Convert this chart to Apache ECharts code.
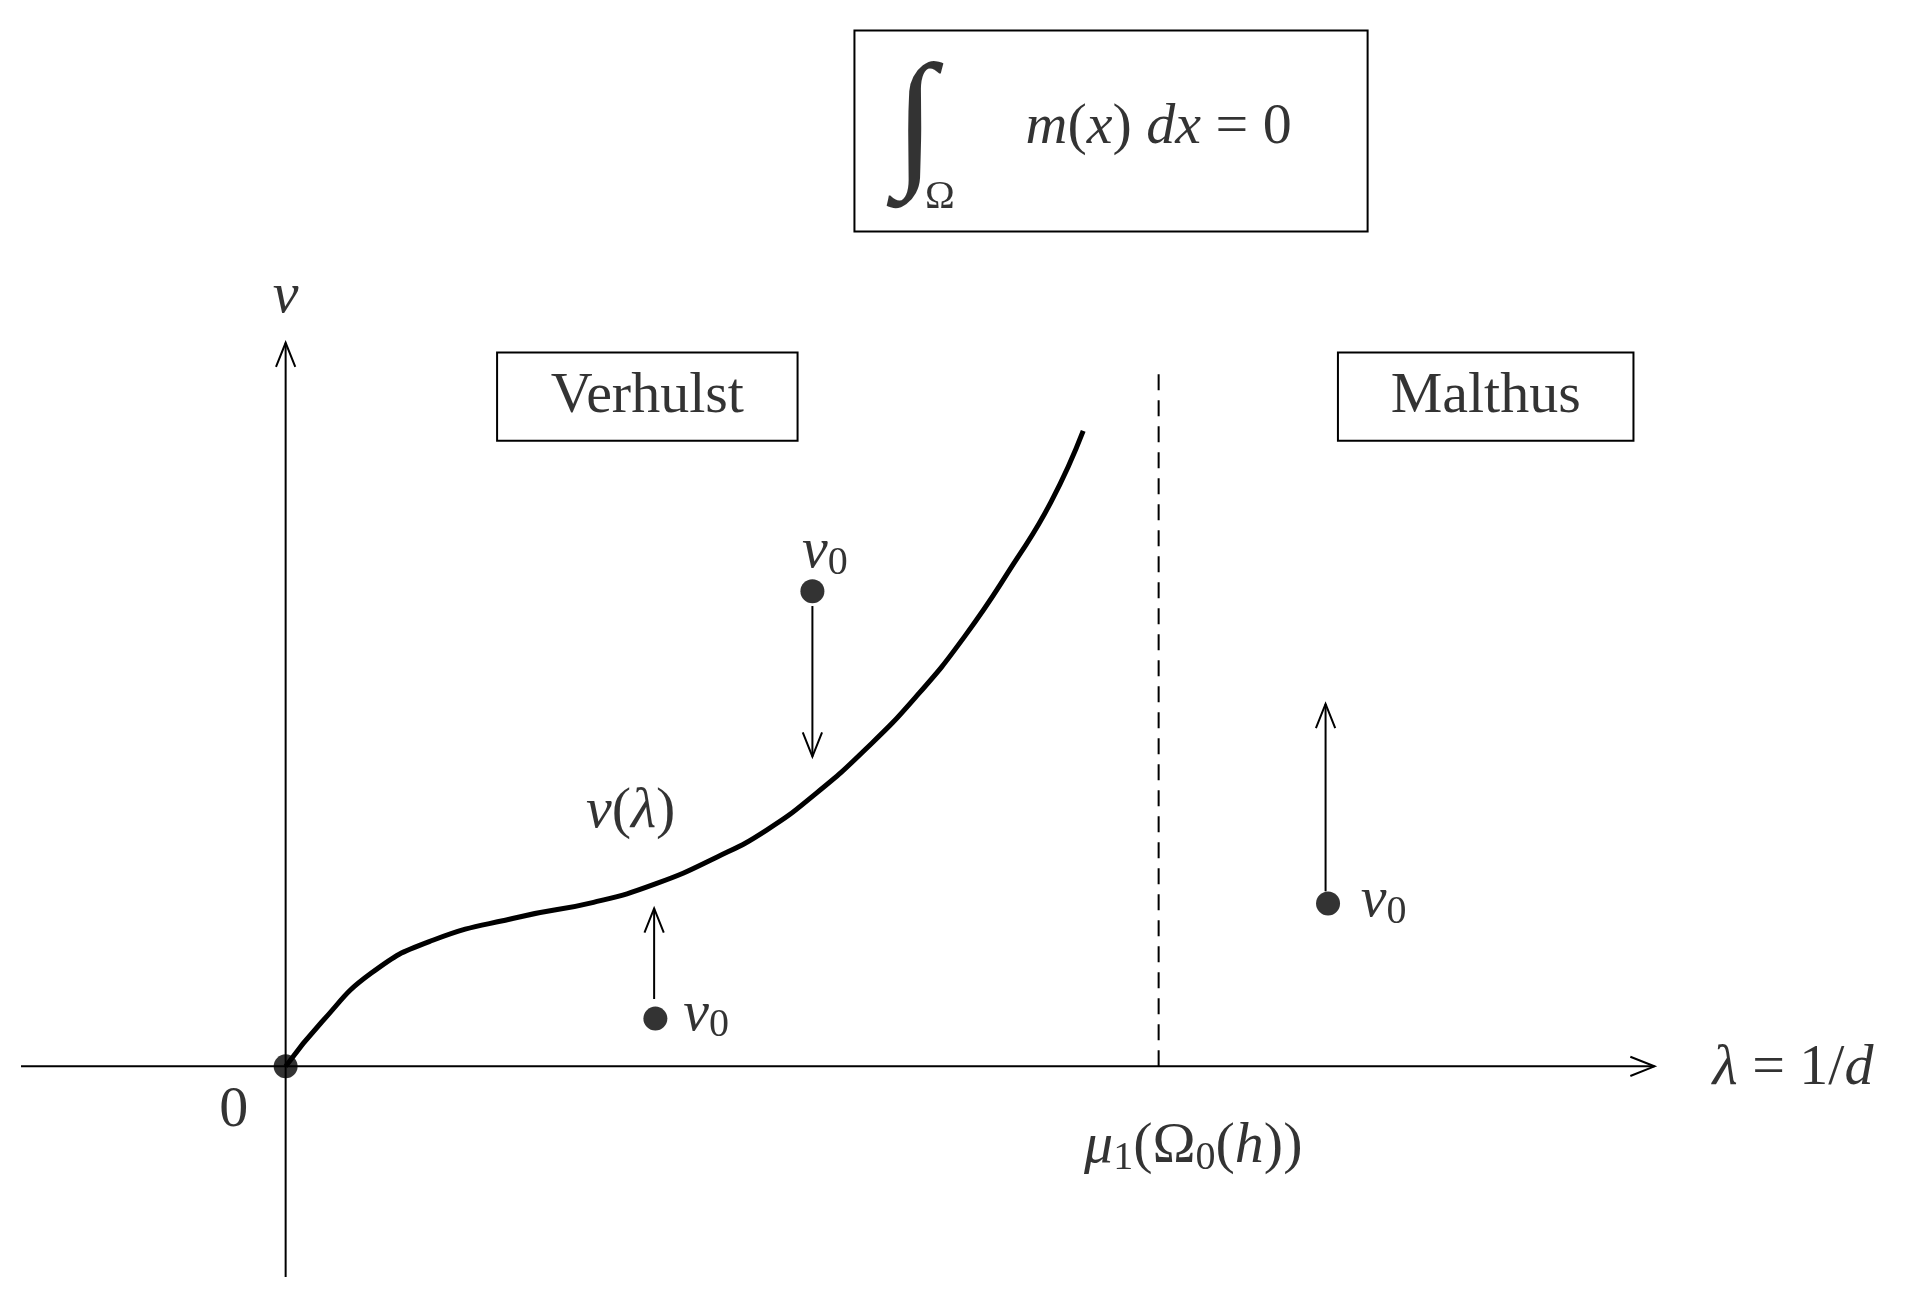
<!DOCTYPE html>
<html><head><meta charset="utf-8">
<script src="https://cdn.jsdelivr.net/npm/echarts@6/dist/echarts.min.js"></script>
<style>html,body{margin:0;background:#fff}#c{width:1929px;height:1310px}</style>
</head><body><div id="c"></div>
<script>
// curve v(lambda)
const curveLambda = [0,0.29,0.69,1.19,1.89,2.49,2.99,3.49,3.89,4.29,4.69,5.09,5.49,5.89,6.19,6.45];
const curveV      = [0,0.36,0.76,1.03,1.22,1.34,1.49,1.71,1.93,2.23,2.59,3.01,3.51,4.11,4.61,5.19];
// initial data dots
const dots = [[0,0],[2.99,0.39],[4.26,3.88],[8.43,1.33]];
// arrows [x1,y1,x2,y2] (head at end)
const arrows = [[-2.14,0,11.07,0],[0,-1.72,0,5.91],[2.98,0.55,2.98,1.29],[4.26,3.76,4.26,2.53],[8.41,1.43,8.41,2.96]];
const mu1 = 7.06, dashTop = 5.66;
// boxes [x1,y1,x2,y2]
const boxes = [[1.71,5.83,4.14,5.11],[8.51,5.83,10.90,5.11],[4.60,8.46,8.75,6.82]];

const serif = '"Liberation Serif","DejaVu Serif",serif';
const chart = echarts.init(document.getElementById('c'));
function lab(x,y,text,rich,size){return {value:[x,y],label:{show:true,position:'inside',formatter:text,rich:rich||{},fontSize:size||56,fontFamily:serif,color:'#000'}};}
const R = {
 i:{fontStyle:'italic',fontSize:58,fontFamily:serif},
 n:{fontSize:58,fontFamily:serif},
 s:{fontSize:40,fontFamily:serif,padding:[22,0,0,0]},
 si:{fontSize:40,fontStyle:'italic',fontFamily:serif,padding:[22,0,0,0]}
};
const labels = [
 lab(0,6.29,'{i|v}',R),
 lab(-0.42,-0.36,'{n|0}',R),
 lab(12.19,-0.02,'{i|λ}{n| = 1/}{i|d}',R),
 lab(7.34,-0.66,'{i|μ}{s|1}{n|(Ω}{s|0}{n|(}{i|h}{n|))}',R),
 lab(2.79,2.08,'{i|v}{n|(}{i|λ}{n|)}',R),
 lab(4.36,4.20,'{i|v}{s|0}',R),
 lab(3.40,0.42,'{i|v}{s|0}',R),
 lab(8.88,1.35,'{i|v}{s|0}',R),
 lab(2.925,5.47,'{n|Verhulst}',R),
 lab(9.705,5.47,'{n|Malthus}',R),
 lab(5.09,7.66,'{b|∫}',{b:{fontSize:150,fontStyle:'italic',fontFamily:serif}}),
 lab(5.29,7.10,'{n|Ω}',{n:{fontSize:40,fontFamily:serif}}),
 lab(7.06,7.67,'{i|m}{n|(}{i|x}{n|) }{i|dx}{n| = 0}',R)
];

chart.setOption({
 animation:false,
 grid:{left:0,right:0,top:0,bottom:0},
 xAxis:{type:'value',min:-2.31,max:13.29,show:false},
 yAxis:{type:'value',min:-1.99,max:8.71,show:false},
 series:[
  {type:'custom',data:arrows,renderItem:(p,api)=>{
    const a=api.coord([api.value(0),api.value(1)]),b=api.coord([api.value(2),api.value(3)]);
    const ang=Math.atan2(b[1]-a[1],b[0]-a[0]),L=26,w=0.38;
    const h1=[b[0]-L*Math.cos(ang-w),b[1]-L*Math.sin(ang-w)],h2=[b[0]-L*Math.cos(ang+w),b[1]-L*Math.sin(ang+w)];
    return {type:'group',children:[
      {type:'line',shape:{x1:a[0],y1:a[1],x2:b[0],y2:b[1]},style:{stroke:'#000',lineWidth:2}},
      {type:'polyline',shape:{points:[h1,b,h2]},style:{stroke:'#000',lineWidth:2,fill:null}}]};
  }},
  {type:'custom',data:boxes,renderItem:(p,api)=>{
    const a=api.coord([api.value(0),api.value(1)]),b=api.coord([api.value(2),api.value(3)]);
    return {type:'rect',shape:{x:a[0],y:a[1],width:b[0]-a[0],height:b[1]-a[1]},style:{stroke:'#000',lineWidth:2,fill:null}};
  }},
  {type:'line',data:[[mu1,0],[mu1,dashTop]],symbol:'none',lineStyle:{color:'#000',width:2,type:[16,10]}},
  {type:'line',data:curveLambda.map((x,i)=>[x,curveV[i]]),smooth:true,symbol:'none',lineStyle:{color:'#000',width:5}},
  {type:'scatter',data:dots,symbolSize:24,itemStyle:{color:'#000'}},
  {type:'scatter',data:labels,symbolSize:0}
 ]
});
</script></body></html>
